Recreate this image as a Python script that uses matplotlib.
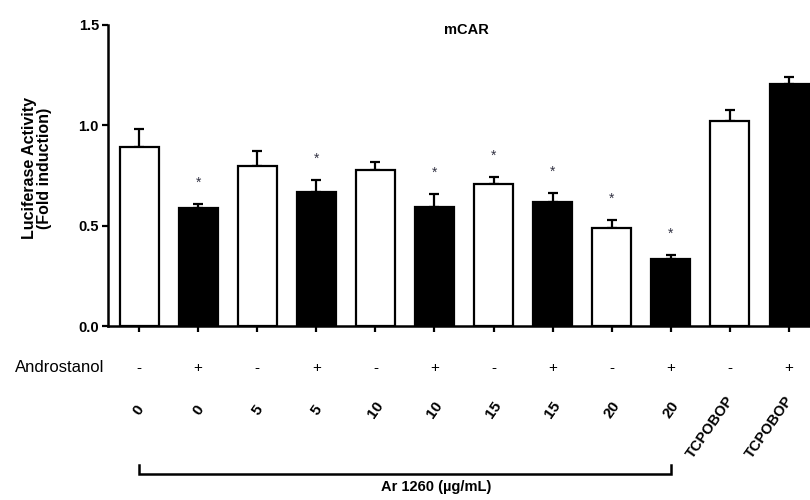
import matplotlib
matplotlib.use("Agg")
import matplotlib.pyplot as plt
from matplotlib.transforms import blended_transform_factory
import numpy as np

plt.rcParams['font.family'] = ['Liberation Sans Narrow', 'Liberation Sans', 'DejaVu Sans']

# ---- data ----
dose_labels = ["0", "0", "5", "5", "10", "10", "15", "15", "20", "20", "TCPOBOP", "TCPOBOP"]
androstanol = ["-", "+", "-", "+", "-", "+", "-", "+", "-", "+", "-", "+"]
means = [0.89, 0.59, 0.795, 0.67, 0.777, 0.595, 0.707, 0.62, 0.49, 0.335, 1.02, 1.205]
sems = [0.09, 0.02, 0.075, 0.057, 0.04, 0.065, 0.035, 0.045, 0.04, 0.02, 0.055, 0.035]
significant = [False, True, False, True, False, True, True, True, True, True, False, False]
fill_colors = ["white" if a == "-" else "black" for a in androstanol]

title = "mCAR"
ylabel = "Luciferase Activity\n(Fold induction)"
bracket_label = "Ar 1260 (\u00b5g/mL)"
yticks = [0.0, 0.5, 1.0, 1.5]

fig = plt.figure(figsize=(8.1, 5.0), dpi=100)
ax = fig.add_axes([108/810, 1-326/500, 1-108/810, (326-25)/500])

x = np.arange(len(means))
ax.bar(x, means, width=0.66, color=fill_colors, edgecolor="black", linewidth=1.6, zorder=2)
ax.errorbar(x, means, yerr=[np.zeros(len(sems)), sems], fmt="none", ecolor="black",
            elinewidth=1.6, capsize=3.3, capthick=1.6, zorder=1)

for xi, m, s, sig in zip(x, means, sems, significant):
    if sig:
        ax.text(xi, m + s + 0.105, "*", ha="center", va="center", fontsize=10, color="#333344")

ax.set_xlim(-0.525, 11.355)
ax.set_ylim(0, 1.5)
ax.set_yticks(yticks)
ax.set_yticklabels([f"{v:.1f}" for v in yticks], fontsize=10.5, fontweight="bold")
ax.set_xticks(x)
ax.set_xticklabels([])
for sp in ["top", "right"]:
    ax.spines[sp].set_visible(False)
for sp in ["left", "bottom"]:
    ax.spines[sp].set_linewidth(1.8)
ax.tick_params(axis="both", direction="out", length=4.5, width=1.6, pad=2)

fig.text(466/810, 1-30/500, title, ha="center", va="center", fontsize=10.5, fontweight="bold")
fig.text(37/810, 1-168/500, ylabel, ha="center", va="center", rotation=90, fontsize=11.5,
         fontweight="semibold", linespacing=1.0)

tr = blended_transform_factory(ax.transData, fig.transFigure)
fig.text(104/810, 1-368/500, "Androstanol", ha="right", va="center", fontsize=12)
for xi, a in zip(x, androstanol):
    ax.text(xi, 1-368/500, a, transform=tr, ha="center", va="center", fontsize=11)

for xi, lab in zip(x, dose_labels):
    if lab == "TCPOBOP":
        ax.text(xi + 0.02, 1-398/500, lab, transform=tr, ha="right", va="center", rotation=55,
                rotation_mode="anchor", fontsize=10.5, fontweight="bold")
    else:
        ax.text(xi, 1-410/500, lab, transform=tr, ha="center", va="center", rotation=55,
                fontsize=11, fontweight="bold")

yb = 1-474/500
yt = 1-465/500
ax.plot([0, 0, 9, 9], [yt, yb, yb, yt], transform=tr, color="black", lw=1.8,
        clip_on=False, solid_joinstyle="miter")
fig.text(436/810, 1-487/500, bracket_label, ha="center", va="center", fontsize=10.5,
         fontweight="bold")

fig.savefig("out.png", dpi=100)
